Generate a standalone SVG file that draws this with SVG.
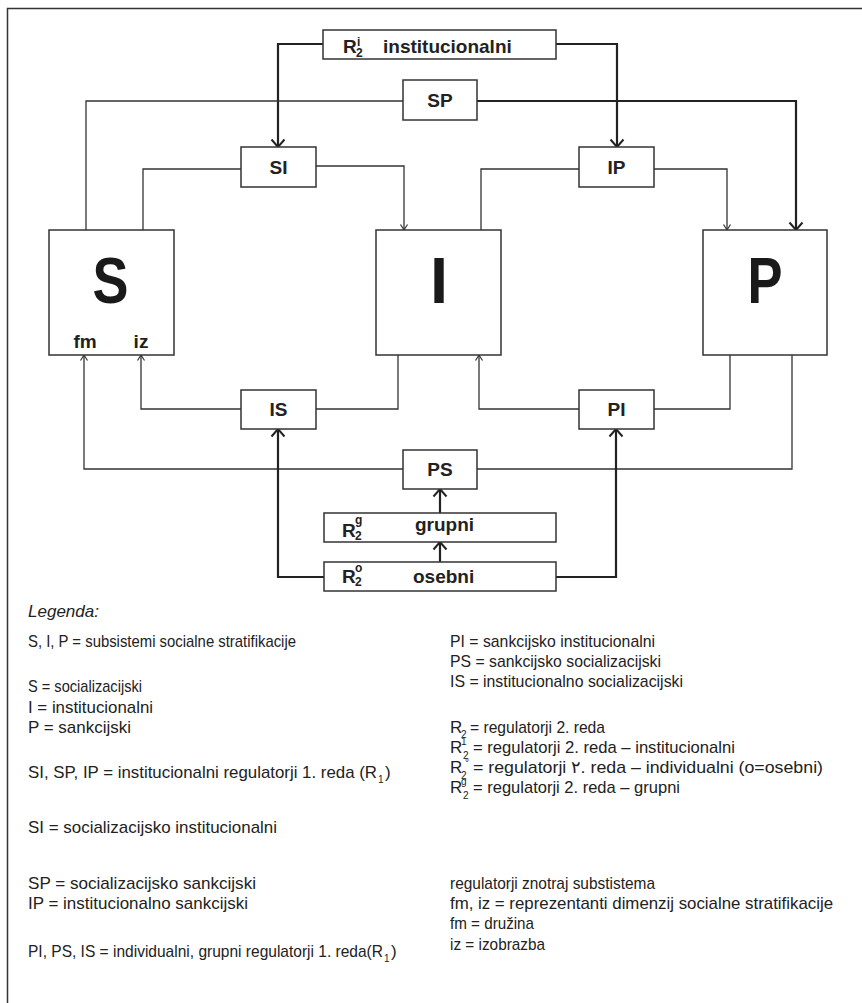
<svg xmlns="http://www.w3.org/2000/svg" width="862" height="1003" viewBox="0 0 862 1003">
<style>
.frame{fill:none;stroke:#333;stroke-width:1.5}
.box{fill:#fff;stroke:#333;stroke-width:1.5}
.thin{fill:none;stroke:#333;stroke-width:1.3}
.bold{fill:none;stroke:#222;stroke-width:2.2}
.lbl{font-family:"Liberation Sans",Arial,sans-serif;font-weight:bold;font-size:19px;fill:#222}
.big{font-family:"Liberation Sans",Arial,sans-serif;font-weight:bold;font-size:65px;fill:#1a1a1a;text-anchor:middle}
.sm{font-size:12px}
.lg{font-family:"Liberation Sans",Arial,sans-serif;font-size:17px;fill:#222}
.lgs{font-size:10px}
</style>
<defs>
<marker id="arrS" markerUnits="userSpaceOnUse" markerWidth="6" markerHeight="8" viewBox="0 0 6 8" refX="6" refY="4" orient="auto" overflow="visible">
<path d="M0.5,0.5 L6,4 L0.5,7.5" fill="none" stroke="#333" stroke-width="1.2"/>
</marker>
<marker id="arrB" markerUnits="userSpaceOnUse" markerWidth="8" markerHeight="14" viewBox="0 0 8 14" refX="8" refY="7" orient="auto" overflow="visible">
<path d="M0.5,0.5 L8,7 L0.5,13.5" fill="none" stroke="#222" stroke-width="2"/>
</marker>
</defs>
<rect width="862" height="1003" fill="#fff"/>
<path class="frame" d="M7.5,1003 V8.5 H862"/>
<g id="connectors">
<path class="bold" d="M323,44 H278 V147" marker-end="url(#arrB)"/>
<path class="bold" d="M556,44 H617 V147" marker-end="url(#arrB)"/>
<path class="thin" d="M403,101 H86 V230"/>
<path class="bold" d="M477,101 H796 V230" marker-end="url(#arrB)"/>
<path class="thin" d="M143,230 V169 H241"/>
<path class="thin" d="M316,166 H404 V230" marker-end="url(#arrS)"/>
<path class="thin" d="M481,230 V169 H579"/>
<path class="thin" d="M654,169 H727 V230" marker-end="url(#arrS)"/>
<path class="thin" d="M241,409 H141 V355" marker-end="url(#arrS)"/>
<path class="thin" d="M398,355 V409 H316"/>
<path class="thin" d="M579,409 H479 V355" marker-end="url(#arrS)"/>
<path class="thin" d="M730,355 V409 H654"/>
<path class="thin" d="M403,469 H84 V355" marker-end="url(#arrS)"/>
<path class="thin" d="M792,355 V469 H477"/>
<path class="bold" d="M324,577 H278 V429" marker-end="url(#arrB)"/>
<path class="bold" d="M556,577 H616 V429" marker-end="url(#arrB)"/>
<path class="bold" d="M440,562 V542" marker-end="url(#arrB)"/>
<path class="bold" d="M440,513 V489" marker-end="url(#arrB)"/>
</g>
<g id="R2i">
<rect class="box" x="323" y="30" width="233" height="29"/>
<text class="lbl"><tspan x="343" y="53">R</tspan><tspan class="sm" x="357" y="46">i</tspan><tspan class="sm" x="356" y="57">2</tspan><tspan x="383" y="53">institucionalni</tspan></text>
</g>
<g id="SP">
<rect class="box" x="403" y="80" width="74" height="40"/>
<text class="lbl" x="440" y="107" text-anchor="middle">SP</text>
</g>
<g id="SI">
<rect class="box" x="241" y="147" width="75" height="40"/>
<text class="lbl" x="278.5" y="174" text-anchor="middle">SI</text>
</g>
<g id="IP">
<rect class="box" x="579" y="147" width="75" height="40"/>
<text class="lbl" x="616.5" y="174" text-anchor="middle">IP</text>
</g>
<g id="S">
<rect class="box" x="49" y="230" width="125" height="125"/>
<text class="big" x="110.5" y="303" textLength="36" lengthAdjust="spacingAndGlyphs">S</text>
<text class="lbl" x="85" y="348" text-anchor="middle">fm</text>
<text class="lbl" x="141" y="348" text-anchor="middle">iz</text>
</g>
<g id="I">
<rect class="box" x="376" y="230" width="125" height="125"/>
<text class="big" x="439" y="303">I</text>
</g>
<g id="P">
<rect class="box" x="703" y="230" width="124" height="125"/>
<text class="big" x="765" y="303" textLength="35" lengthAdjust="spacingAndGlyphs">P</text>
</g>
<g id="IS">
<rect class="box" x="241" y="390" width="75" height="39"/>
<text class="lbl" x="278.5" y="416" text-anchor="middle">IS</text>
</g>
<g id="PI">
<rect class="box" x="579" y="390" width="75" height="39"/>
<text class="lbl" x="616.5" y="416" text-anchor="middle">PI</text>
</g>
<g id="PS">
<rect class="box" x="403" y="450" width="74" height="39"/>
<text class="lbl" x="440" y="476" text-anchor="middle">PS</text>
</g>
<g id="R2g">
<rect class="box" x="324" y="513" width="232" height="29"/>
<text class="lbl"><tspan x="342" y="537">R</tspan><tspan class="sm" x="355" y="524">g</tspan><tspan class="sm" x="355" y="540">2</tspan><tspan x="415" y="531">grupni</tspan></text>
</g>
<g id="R2o">
<rect class="box" x="324" y="562" width="232" height="29"/>
<text class="lbl"><tspan x="342" y="583">R</tspan><tspan class="sm" x="355" y="572">o</tspan><tspan class="sm" x="355" y="586">2</tspan><tspan x="413" y="583">osebni</tspan></text>
</g>
<g id="legend">
<text class="lg" x="28" y="617" font-style="italic" textLength="71" lengthAdjust="spacingAndGlyphs">Legenda:</text>
<text class="lg" x="28" y="647" textLength="268" lengthAdjust="spacingAndGlyphs">S, I, P = subsistemi socialne stratifikacije</text>
<text class="lg" x="28" y="692" textLength="114" lengthAdjust="spacingAndGlyphs">S = socializacijski</text>
<text class="lg" x="28" y="713" textLength="125" lengthAdjust="spacingAndGlyphs">I = institucionalni</text>
<text class="lg" x="28" y="733" textLength="103" lengthAdjust="spacingAndGlyphs">P = sankcijski</text>
<text class="lg"><tspan x="28" y="778" textLength="349" lengthAdjust="spacingAndGlyphs">SI, SP, IP = institucionalni regulatorji 1. reda (R</tspan><tspan class="lgs" x="378" y="783">1</tspan><tspan x="385" y="778">)</tspan></text>
<text class="lg" x="28" y="833" textLength="249" lengthAdjust="spacingAndGlyphs">SI = socializacijsko institucionalni</text>
<text class="lg" x="28" y="889" textLength="228" lengthAdjust="spacingAndGlyphs">SP = socializacijsko sankcijski</text>
<text class="lg" x="28" y="909" textLength="220" lengthAdjust="spacingAndGlyphs">IP = institucionalno sankcijski</text>
<text class="lg"><tspan x="28" y="957" textLength="355" lengthAdjust="spacingAndGlyphs">PI, PS, IS = individualni, grupni regulatorji 1. reda(R</tspan><tspan class="lgs" x="384" y="962">1</tspan><tspan x="391" y="957">)</tspan></text>
<text class="lg" x="450" y="647" textLength="205" lengthAdjust="spacingAndGlyphs">PI = sankcijsko institucionalni</text>
<text class="lg" x="450" y="667" textLength="211" lengthAdjust="spacingAndGlyphs">PS = sankcijsko socializacijski</text>
<text class="lg" x="450" y="687" textLength="233" lengthAdjust="spacingAndGlyphs">IS = institucionalno socializacijski</text>
<text class="lg"><tspan x="450" y="733">R</tspan><tspan class="lgs" x="461" y="738">2</tspan><tspan x="470" y="733" textLength="135" lengthAdjust="spacingAndGlyphs">= regulatorji 2. reda</tspan></text>
<text class="lg"><tspan x="450" y="753">R</tspan><tspan class="lgs" x="461" y="745">1</tspan><tspan class="lgs" x="463" y="759">2</tspan><tspan x="473" y="753" textLength="262" lengthAdjust="spacingAndGlyphs">= regulatorji 2. reda – institucionalni</tspan></text>
<text class="lg"><tspan x="450" y="773">R</tspan><tspan class="lgs" x="461" y="779">2</tspan><tspan class="lgs" x="465" y="766">°</tspan><tspan x="473" y="773" textLength="350" lengthAdjust="spacingAndGlyphs">= regulatorji ٢. reda – individualni (o=osebni)</tspan></text>
<text class="lg"><tspan x="450" y="793">R</tspan><tspan class="lgs" x="461" y="785">g</tspan><tspan class="lgs" x="463" y="799">2</tspan><tspan x="473" y="793" textLength="207" lengthAdjust="spacingAndGlyphs">= regulatorji 2. reda – grupni</tspan></text>
<text class="lg" x="450" y="889" textLength="205" lengthAdjust="spacingAndGlyphs">regulatorji znotraj substistema</text>
<text class="lg" x="450" y="909" textLength="383" lengthAdjust="spacingAndGlyphs">fm, iz = reprezentanti dimenzij socialne stratifikacije</text>
<text class="lg" x="450" y="929" textLength="84" lengthAdjust="spacingAndGlyphs">fm = družina</text>
<text class="lg" x="450" y="950" textLength="95" lengthAdjust="spacingAndGlyphs">iz = izobrazba</text>
</g>
</svg>
